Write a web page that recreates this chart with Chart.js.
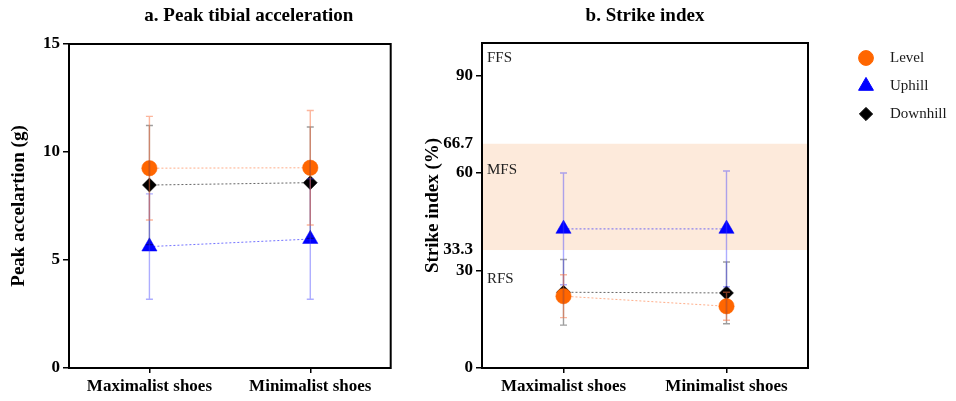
<!DOCTYPE html>
<html>
<head>
<meta charset="utf-8">
<script src="https://cdn.jsdelivr.net/npm/chart.js@4.4.0/dist/chart.umd.min.js"></script>
<style>
  body { margin: 0; background: #fff; }
  #wrap { position: relative; width: 956px; height: 401px; }
  #accChart { position: absolute; left: 0; top: 0; }
  #siChart { position: absolute; left: 400px; top: 0; }
</style>
</head>
<body>
<div id="wrap">
  <canvas id="accChart" width="400" height="401"></canvas>
  <canvas id="siChart" width="556" height="401"></canvas>
</div>
<script>
const categories = ['Maximalist shoes', 'Minimalist shoes'];
const seriesNames = ['Level', 'Uphill', 'Downhill'];

// a. peak tibial acceleration (g), mean and SD
const accLevel = [9.25, 9.27];
const accLevelSD = [2.4, 2.65];
const accUphill = [5.62, 5.97];
const accUphillSD = [2.44, 2.79];
const accDownhill = [8.47, 8.58];
const accDownhillSD = [2.76, 2.58];

// b. strike index (%), mean and SD
const siLevel = [22.1, 19.0];
const siLevelSD = [6.6, 4.3];
const siUphill = [42.8, 42.8];
const siUphillSD = [17.2, 17.8];
const siDownhill = [23.3, 23.1];
const siDownhillSD = [10.1, 9.5];

// strike index axis: tick positions as drawn and their labels
const siTickValues = [0, 30, 36.3, 60, 69, 90];
const siTickLabels = ['0', '30', '33.3', '60', '66.7', '90'];
const siNoTickMark = [36.3, 69];
const mfsBand = [36.3, 69];
const zoneLabels = ['FFS', 'MFS', 'RFS'];
const zoneLabelValues = [95.3, 60.8, 27.5];

const SERIF = '"Liberation Serif", "Times New Roman", serif';

const styles = [
    { color: '#ff6600', line: 'rgba(255,120,60,0.6)', err: 'rgba(250,110,60,0.5)', point: 'circle', r: 7.7 },
    { color: '#0000ff', line: 'rgba(40,40,255,0.65)', err: 'rgba(60,60,255,0.42)', point: 'triangle', r: 8.8 },
    { color: '#000000', line: 'rgba(0,0,0,0.6)', err: 'rgba(0,0,0,0.38)', point: 'rectRot', r: 7 }
];

function makeDatasets(values, sds) {
    return values.map((v, i) => ({
        label: seriesNames[i],
        data: v,
        sd: sds[i],
        errColor: styles[i].err,
        borderColor: styles[i].line,
        borderWidth: 1,
        borderDash: [2, 2],
        backgroundColor: styles[i].color,
        pointBackgroundColor: styles[i].color,
        pointBorderColor: styles[i].color,
        pointBorderWidth: 0.5,
        pointStyle: styles[i].point,
        pointRadius: styles[i].r,
        fill: false,
        tension: 0
    }));
}

// error bars drawn with the y scale
const errorBars = {
    id: 'errorBars',
    afterDatasetsDraw(chart) {
        const ctx = chart.ctx;
        const y = chart.scales.y;
        const order = [2, 1, 0];
        ctx.save();
        ctx.lineWidth = 1.4;
        order.forEach(di => {
            const ds = chart.data.datasets[di];
            const meta = chart.getDatasetMeta(di);
            ctx.strokeStyle = ds.errColor;
            meta.data.forEach((pt, i) => {
                const top = y.getPixelForValue(ds.data[i] + ds.sd[i]);
                const bot = y.getPixelForValue(ds.data[i] - ds.sd[i]);
                ctx.beginPath();
                ctx.moveTo(pt.x, top); ctx.lineTo(pt.x, bot);
                ctx.moveTo(pt.x - 3.5, top); ctx.lineTo(pt.x + 3.5, top);
                ctx.moveTo(pt.x - 3.5, bot); ctx.lineTo(pt.x + 3.5, bot);
                ctx.stroke();
            });
        });
        ctx.restore();
    }
};

// frame round the plot and the panel title
const frame = {
    id: 'frame',
    afterDraw(chart, args, opts) {
        const { ctx, chartArea: a } = chart;
        ctx.save();
        ctx.strokeStyle = '#000';
        ctx.lineWidth = 2;
        ctx.strokeRect(a.left, a.top, a.right - a.left, a.bottom - a.top);
        ctx.fillStyle = '#000';
        ctx.font = 'bold 19px ' + SERIF;
        ctx.textAlign = 'center';
        ctx.textBaseline = 'middle';
        ctx.fillText(opts.text, (a.left + a.right) / 2 + (opts.dx || 0), 16);
        ctx.restore();
    }
};

// MFS band and zone names
const zones = {
    id: 'zones',
    beforeDatasetsDraw(chart) {
        const { ctx, chartArea: a } = chart;
        const y = chart.scales.y;
        ctx.save();
        ctx.fillStyle = '#fdeadb';
        const t = y.getPixelForValue(mfsBand[1]);
        const b = y.getPixelForValue(mfsBand[0]);
        ctx.fillRect(a.left + 1, t, a.right - a.left - 2, b - t);
        ctx.fillStyle = '#222';
        ctx.font = '15px ' + SERIF;
        ctx.textBaseline = 'middle';
        zoneLabels.forEach((z, i) => ctx.fillText(z, a.left + 5, y.getPixelForValue(zoneLabelValues[i])));
        ctx.restore();
    }
};

// legend at the right of panel b
const sideLegend = {
    id: 'sideLegend',
    afterDraw(chart) {
        const { ctx, chartArea: a } = chart;
        ctx.save();
        ctx.font = '15px ' + SERIF;
        ctx.textBaseline = 'middle';
        const sizes = [7.4, 8.6, 6.6];
        chart.data.datasets.forEach((ds, i) => {
            const cy = a.top + 15 + i * 28;
            const cx = a.right + 58;
            ctx.fillStyle = styles[i].color;
            ctx.strokeStyle = styles[i].color;
            Chart.helpers.drawPoint(ctx, { pointStyle: styles[i].point, radius: sizes[i], rotation: 0, borderWidth: 0.5 }, cx, cy);
            ctx.fillStyle = '#1a1a1a';
            ctx.fillText(ds.label, cx + 24, cy);
        });
        ctx.restore();
    }
};

function baseOptions(yOpts, pad, yWidth, titleOpts) {
    return {
        responsive: false,
        animation: false,
        layout: { padding: pad },
        plugins: {
            legend: { display: false },
            tooltip: { enabled: false },
            frame: titleOpts
        },
        scales: {
            x: {
                type: 'category',
                offset: true,
                afterFit(s) { s.height = 33; },
                grid: { display: true, drawOnChartArea: false, drawTicks: true, tickLength: 5, color: '#000', lineWidth: 1.5 },
                border: { display: false },
                ticks: { color: '#000', font: { family: SERIF, size: 17, weight: 'bold' }, padding: 3, maxRotation: 0, autoSkip: false }
            },
            y: Object.assign({
                afterFit(s) { s.width = yWidth; },
                border: { display: false }
            }, yOpts)
        }
    };
}

const accOpts = baseOptions({
    min: 0, max: 15,
    grid: { display: true, drawOnChartArea: false, drawTicks: true, tickLength: 6, color: '#000', lineWidth: 1.5 },
    ticks: { stepSize: 5, color: '#000', font: { family: SERIF, size: 17, weight: 'bold' }, padding: 3 },
    title: { display: true, text: 'Peak accelartion (g)', color: '#000', font: { family: SERIF, size: 19, weight: 'bold' }, padding: { top: 8 } }
}, { top: 44, right: 0, left: 0, bottom: 0 }, 69, { text: 'a. Peak tibial acceleration', dx: 19 });

new Chart(document.getElementById('accChart'), {
    type: 'line',
    data: { labels: categories, datasets: makeDatasets([accLevel, accUphill, accDownhill], [accLevelSD, accUphillSD, accDownhillSD]) },
    options: accOpts,
    plugins: [errorBars, frame]
});

const siOpts = baseOptions({
    min: 0, max: 100,
    afterBuildTicks(s) { s.ticks = siTickValues.map(v => ({ value: v })); },
    grid: {
        display: true, drawOnChartArea: false, drawTicks: true, tickLength: 6, lineWidth: 1.5,
        tickColor: c => (c.tick && siNoTickMark.includes(c.tick.value)) ? 'rgba(0,0,0,0)' : '#000'
    },
    ticks: {
        color: '#000', font: { family: SERIF, size: 17, weight: 'bold' }, padding: 3,
        callback: v => siTickLabels[siTickValues.indexOf(v)]
    },
    title: { display: true, text: 'Strike index (%)', color: '#000', font: { family: SERIF, size: 19, weight: 'bold' }, padding: { top: 22 } }
}, { top: 43, right: 148, left: 0, bottom: 0 }, 82, { text: 'b. Strike index', dx: 0 });

new Chart(document.getElementById('siChart'), {
    type: 'line',
    data: { labels: categories, datasets: makeDatasets([siLevel, siUphill, siDownhill], [siLevelSD, siUphillSD, siDownhillSD]) },
    options: siOpts,
    plugins: [zones, errorBars, frame, sideLegend]
});
</script>
</body>
</html>
